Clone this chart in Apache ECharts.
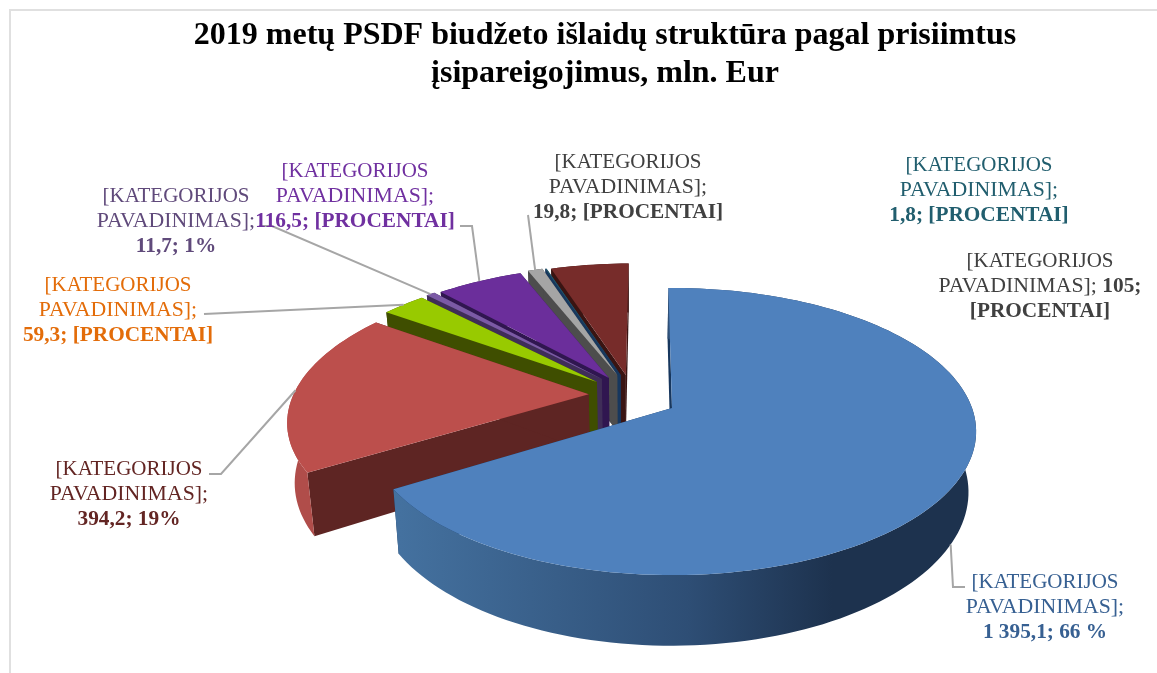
<!DOCTYPE html>
<html>
<head>
<meta charset="utf-8">
<title>PSDF</title>
<style>
	html, body { margin: 0; padding: 0; background: #fff; }
	#chart { width: 1157px; height: 673px; }
</style>
<script src="https://cdn.jsdelivr.net/npm/echarts@6/dist/echarts.min.js"></script>
</head>
<body>
<div id="chart"></div>
<script>
	var titleText = '2019 metų PSDF biudžeto išlaidų struktūra pagal prisiimtus\nįsipareigojimus, mln. Eur';

	// values, clockwise from 12 o'clock
	var values = [1395.1, 394.2, 59.3, 11.7, 116.5, 19.8, 1.8, 105];
	var valueLabels = ['1 395,1', '394,2', '59,3', '11,7', '116,5', '19,8', '1,8', '105'];
	var percentLabels = ['66 %', '19%', '[PROCENTAI]', '1%', '[PROCENTAI]', '[PROCENTAI]', '[PROCENTAI]', '[PROCENTAI]'];
	var nameLine1 = '[KATEGORIJOS';
	var nameLine2 = 'PAVADINIMAS];';

	// slice look
	var topColors = ['#4F81BD', '#BC4F4C', '#98CA00', '#7B5AA5', '#6B2E9B', '#A5A5A5', '#215868', '#772C2A'];
	var arcColors = ['#2E4E75', '#B04D4A', '#3F4E00', '#3F2D58', '#301650', '#4D4D4D', '#17375E', '#3A1412'];
	var edgeColors = ['#17375E', '#5E2523', '#3F4E00', '#3F2D58', '#301650', '#4D4D4D', '#17375E', '#3A1412'];
	var textColors = ['#376092', '#632523', '#E36C09', '#604A7B', '#7030A0', '#404040', '#215E6E', '#404040'];

	// how far each slice is pulled out, in disc radii
	var pullX = [0, -0.282, -0.258, -0.242, -0.218, -0.19, -0.178, -0.16];
	var pullZ = [0, 0.1, 0.192, 0.215, 0.222, 0.246, 0.246, 0.246];

	// label centres and the label end of each leader line
	var labelPos = [[1045, 607], [129, 494], [118, 310], [176, 221], [355, 196], [628, 187], [979, 190], [1040, 286]];
	var leaderEnds = [
		[[953, 587], [965, 587]],
		[[221, 474], [209, 474]],
		[[204, 314]],
		[[272, 226], [259, 226]],
		[[472, 226], [460, 226]],
		[[528, 215]],
		null,
		null
	];

	// projection of the tilted disc
	var cx = 672, cy = 408, rx = 300, ry = 139.7, persp = 0.164;
	var depth = 59, dropX = 630, dropScale = 0.978;
	var startAngle = -0.8 * Math.PI / 180;
	var total = values.reduce(function(a, b) { return a + b; }, 0);

	function project(X, Z, low) {
		var d = 1 + persp * Z;
		var x = cx + rx * X / d;
		var y = cy - ry * Z / d;
		if (low) {
			x = dropX + (x - dropX) * dropScale;
			y += depth / d;
		}
		return [x, y];
	}

	function sliceAngles(i) {
		var before = 0;
		for (var k = 0; k < i; k++) before += values[k];
		var a0 = startAngle + before / total * Math.PI * 2;
		return [a0, a0 + values[i] / total * Math.PI * 2];
	}

	function labelText(i) {
		var lines = '{n|' + nameLine1 + '}\n';
		if (values[i] === 105) {
			// this one wraps differently in the picture
			lines += '{m|' + nameLine2 + ' }{b|' + valueLabels[i] + ';}\n{b|' + percentLabels[i] + '}';
		} else {
			lines += '{m|' + nameLine2 + '}\n{b|' + valueLabels[i] + '; ' + percentLabels[i] + '}';
		}
		return lines;
	}

	function renderSlice(params, api) {
		var i = api.value(0);
		var a = sliceAngles(i);
		var mid = (a[0] + a[1]) / 2;
		var ox = pullX[i];
		var oz = pullZ[i];

		var arc = [], arcLow = [];
		var steps = Math.max(2, Math.ceil((a[1] - a[0]) / 0.03));
		for (var s = 0; s <= steps; s++) {
			var t = a[0] + (a[1] - a[0]) * s / steps;
			arc.push(project(ox + Math.sin(t), oz + Math.cos(t), false));
			arcLow.push(project(ox + Math.sin(t), oz + Math.cos(t), true));
		}
		var apex = project(ox, oz, false);
		var apexLow = project(ox, oz, true);
		var last = arc.length - 1;

		var arcFill = arcColors[i];
		if (i === 0) {
			arcFill = {
				type: 'linear', x: 400, y: 0, x2: 976, y2: 0, global: true,
				colorStops: [
					{ offset: 0, color: '#44719F' },
					{ offset: 0.5, color: '#2E4E75' },
					{ offset: 0.75, color: '#1D324E' },
					{ offset: 1, color: '#1D324E' }
				]
			};
		}

		var children = [
			{ type: 'polygon', shape: { points: [apex, arc[0], arcLow[0], apexLow] }, style: { fill: edgeColors[i] } },
			{ type: 'polygon', shape: { points: [apex, arc[last], arcLow[last], apexLow] }, style: { fill: edgeColors[i] } },
			{ type: 'polygon', shape: { points: arc.concat(arcLow.slice().reverse()) }, style: { fill: arcFill } },
			{ type: 'polygon', shape: { points: [apex].concat(arc) }, style: { fill: topColors[i] } }
		];

		// leader line starts at the middle of the outer edge, on the wall for the front slice
		if (leaderEnds[i]) {
			var start = project(ox + Math.sin(mid), oz + Math.cos(mid), i === 0);
			children.push({
				type: 'polyline',
				z2: 50,
				shape: { points: [start].concat(leaderEnds[i]) },
				style: { stroke: '#A6A6A6', lineWidth: 2, fill: 'none' }
			});
		}

		children.push({
			type: 'text',
			z2: 100,
			style: {
				x: labelPos[i][0],
				y: labelPos[i][1],
				text: labelText(i),
				align: 'center',
				verticalAlign: 'middle',
				rich: {
					n: { font: '21px "Liberation Serif"', fill: textColors[i], lineHeight: 25 },
					m: { font: '21.8px "Liberation Serif"', fill: textColors[i], lineHeight: 25 },
					b: { font: 'bold 21.3px "Liberation Serif"', fill: textColors[i], lineHeight: 25 }
				}
			}
		});

		return { type: 'group', children: children };
	}

	var chart = echarts.init(document.getElementById('chart'));

	chart.setOption({
		animation: false,
		backgroundColor: '#fff',
		title: {
			text: titleText,
			left: 600,
			top: 12,
			textAlign: 'center',
			textStyle: {
				fontFamily: 'Liberation Serif',
				fontSize: 32,
				fontWeight: 'bold',
				color: '#000',
				lineHeight: 38
			}
		},
		graphic: [{
			type: 'polyline',
			shape: { points: [[10, 673], [10, 10], [1157, 10]] },
			style: { stroke: '#E0E0E0', lineWidth: 2, fill: 'none' }
		}],
		series: [{
			type: 'custom',
			coordinateSystem: 'none',
			renderItem: renderSlice,
			// painted from the back so the big front slice ends up on top
			data: values.map(function(v, i) { return [i, v]; }).reverse()
		}]
	});
</script>
</body>
</html>
